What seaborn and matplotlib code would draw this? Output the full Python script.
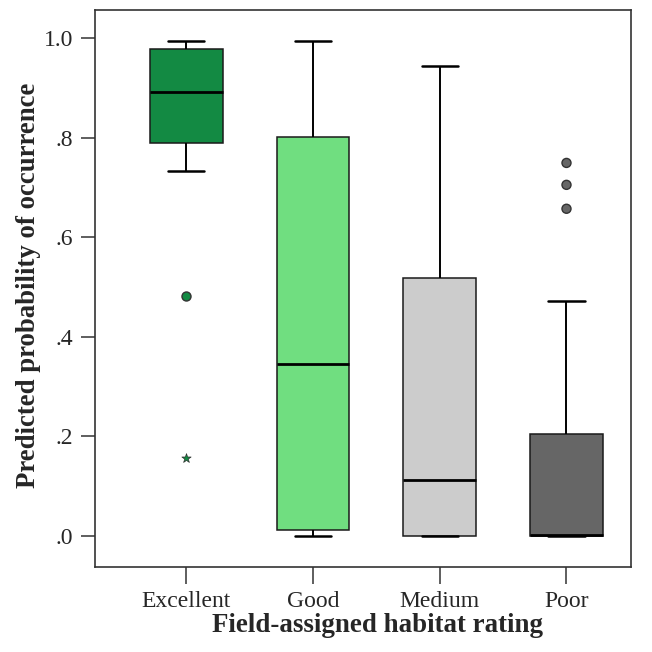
import numpy as np
import pandas as pd
import seaborn as sns
import matplotlib.pyplot as plt
from matplotlib.ticker import FuncFormatter

# five-number summaries: whisker low, Q1, median, Q3, whisker high
ratings = ['Excellent', 'Good', 'Medium', 'Poor']
excellent = [0.733, 0.789, 0.892, 0.978, 0.994]
good = [0.0, 0.012, 0.345, 0.801, 0.994]
medium = [0.0, 0.0, 0.112, 0.518, 0.944]
poor = [0.0, 0.0, 0.002, 0.205, 0.472]

# outliers (circles) and extreme values (stars)
out_cat = ['Excellent', 'Poor', 'Poor', 'Poor']
out_val = [0.482, 0.749, 0.705, 0.657]
ext_cat = ['Excellent']
ext_val = [0.157]

colors = {'Excellent': '#138a43', 'Good': '#70de80', 'Medium': '#cccccc', 'Poor': '#666666'}

df = pd.DataFrame({
    'rating': np.repeat(ratings, 5),
    'prob': excellent + good + medium + poor,
})
df_out = pd.DataFrame({'rating': out_cat, 'prob': out_val})
df_ext = pd.DataFrame({'rating': ext_cat, 'prob': ext_val})

sns.set_style('white')
plt.rcParams['font.family'] = ['Liberation Serif', 'DejaVu Serif']

fig = plt.figure(figsize=(6.52, 6.52), dpi=100)
ax = fig.add_axes([0.1457, 0.1304, 0.8223, 0.8543])

sns.boxplot(data=df, x='rating', y='prob', hue='rating', order=ratings, palette=colors,
            saturation=1, whis=(0, 100), width=0.575, linecolor='#1a1a1a', linewidth=1.1,
            showfliers=False, legend=False, ax=ax,
            medianprops={'color': 'black', 'linewidth': 2},
            whiskerprops={'color': 'black', 'linewidth': 1.4},
            capprops={'color': 'black', 'linewidth': 1.8})

sns.stripplot(data=df_out, x='rating', y='prob', hue='rating', order=ratings,
              palette=colors, jitter=False, size=6.5, linewidth=1,
              edgecolor='#333333', legend=False, ax=ax)
sns.stripplot(data=df_ext, x='rating', y='prob', hue='rating', order=ratings,
              palette=colors, jitter=False, size=7, marker='*', linewidth=0.5,
              legend=False, ax=ax)

ax.set_xlim(-0.72, 3.51)
ax.set_ylim(-0.062, 1.056)
ax.set_yticks([0, 0.2, 0.4, 0.6, 0.8, 1.0])
ax.yaxis.set_major_formatter(FuncFormatter(lambda v, p: '1.0' if v >= 0.99 else ('.%d' % round(v * 10))))

for s in ax.spines.values():
    s.set_color('#333333')
    s.set_linewidth(1.2)

ax.tick_params(axis='both', direction='out', width=1.1, color='#333333',
               labelsize=17, left=True, bottom=True)
ax.tick_params(axis='y', length=10, pad=5.5)
ax.tick_params(axis='x', length=12, pad=5)
ax.set_xlabel('Field-assigned habitat rating', fontsize=19.4, fontweight='bold')
ax.set_ylabel('Predicted probability of occurrence', fontsize=19.3, fontweight='bold')
ax.xaxis.set_label_coords((377 - 95) / 536, -0.083)
ax.yaxis.set_label_coords(-0.10, 0.505)

fig.savefig('out.png', dpi=100)
